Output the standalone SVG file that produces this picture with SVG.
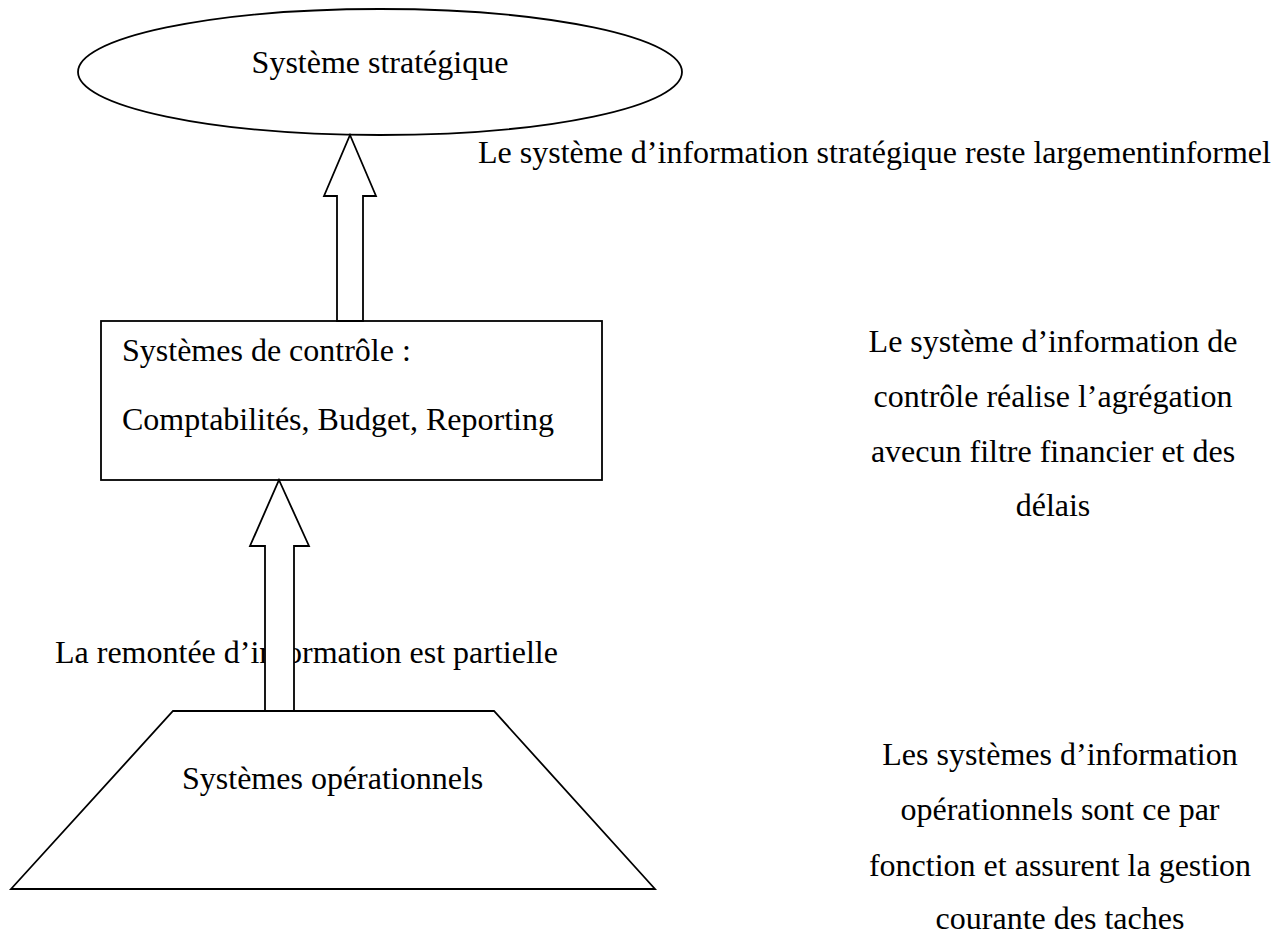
<svg xmlns="http://www.w3.org/2000/svg" width="1281" height="934" viewBox="0 0 1281 934">
<style>
text{font-family:"Liberation Serif","Times New Roman",serif;font-size:32px;fill:#000}
.shape{fill:#fff;stroke:#000;stroke-width:1.8}
.c{text-anchor:middle}
</style>
<rect width="1281" height="934" fill="#fff"/>
<g id="labels">
<text x="478" y="163">Le système d’information stratégique reste largementinformel</text>
<text x="55" y="663">La remontée d’information est partielle</text>
<g class="c">
<text x="1053" y="352">Le système d’information de</text>
<text x="1053" y="407">contrôle réalise l’agrégation</text>
<text x="1053" y="462">avecun filtre financier et des</text>
<text x="1053" y="516">délais</text>
</g>
<g class="c">
<text x="1060" y="765">Les systèmes d’information</text>
<text x="1060" y="820">opérationnels sont ce par</text>
<text x="1060" y="876">fonction et assurent la gestion</text>
<text x="1060" y="929">courante des taches</text>
</g>
</g>
<g id="strategique">
<ellipse class="shape" cx="380" cy="72" rx="302" ry="63"/>
<text x="380" y="73" class="c">Système stratégique</text>
</g>
<g id="controle">
<rect class="shape" x="101" y="321" width="501" height="159"/>
<text x="122" y="361">Systèmes de contrôle :</text>
<text x="122" y="430">Comptabilités, Budget, Reporting</text>
</g>
<g id="operationnels">
<polygon class="shape" points="173,711 494,711 655,889 11,889"/>
<text x="182" y="789">Systèmes opérationnels</text>
</g>
<g id="connectors">
<polygon class="shape" points="350,135 376,196 363,196 363,321 337,321 337,196 324,196"/>
<polygon class="shape" points="279,480 309,546 294,546 294,711 265,711 265,546 250,546"/>
</g>
</svg>
